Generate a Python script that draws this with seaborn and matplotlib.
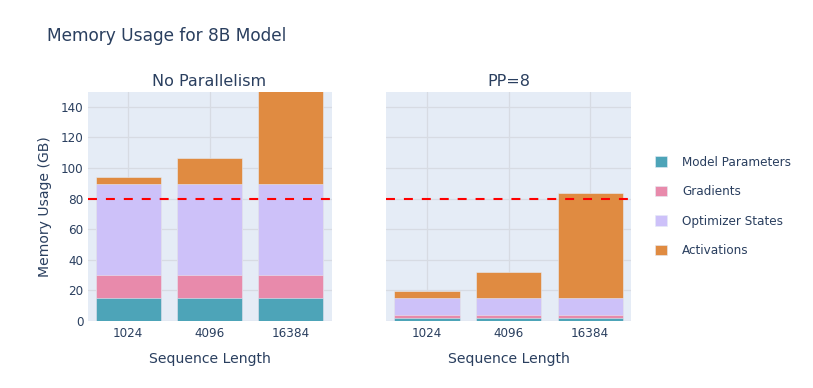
import matplotlib
matplotlib.use("Agg")
import matplotlib.pyplot as plt
import seaborn as sns
import pandas as pd
import numpy as np
from matplotlib.patches import Patch

# ---------------- data ----------------
seq_lengths = ["1024", "4096", "16384"]
components = ["Model Parameters", "Gradients", "Optimizer States", "Activations"]
panels = ["No Parallelism", "PP=8"]

params_nopp = [14.9, 14.9, 14.9]
grads_nopp = [14.9, 14.9, 14.9]
optim_nopp = [59.6, 59.6, 59.6]
act_nopp = [4.4, 17.2, 68.5]

params_pp8 = [1.86, 1.86, 1.86]
grads_pp8 = [1.86, 1.86, 1.86]
optim_pp8 = [11.18, 11.18, 11.18]
act_pp8 = [4.4, 17.2, 68.5]

gpu_limit = 80
y_max = 150
y_ticks = [0, 20, 40, 60, 80, 100, 120, 140]

colors = {
    "Model Parameters": "#4DA4B8",
    "Gradients": "#E88AAB",
    "Optimizer States": "#CDC1F9",
    "Activations": "#E08B41",
}

rows = []
for panel, series in zip(panels, [
        [params_nopp, grads_nopp, optim_nopp, act_nopp],
        [params_pp8, grads_pp8, optim_pp8, act_pp8]]):
    for comp, vals in zip(components, series):
        for s, v in zip(seq_lengths, vals):
            rows.append({"panel": panel, "seq": s, "component": comp, "value": v})
df = pd.DataFrame(rows)

# ---------------- style ----------------
sns.set_theme(style="darkgrid")
text_col = "#2a3f5f"
bg = "#E5ECF6"
grid_col = "#D7DBE3"
plt.rcParams["font.family"] = ["DejaVu Sans"]

W, H = 813, 388
fig = plt.figure(figsize=(W / 100, H / 100), dpi=100)
fig.patch.set_facecolor("white")

def fx(px):
    return px / W

def fy(py):
    return 1 - py / H

ax_l = fig.add_axes([fx(87.5), fy(321), fx(331.5 - 87.5), (321 - 91.5) / H])
ax_r = fig.add_axes([fx(386), fy(321), fx(631 - 386), (321 - 91.5) / H], sharey=ax_l)

for ax, panel in zip([ax_l, ax_r], panels):
    ax.set_facecolor(bg)
    sub = df[df.panel == panel].copy()
    piv = sub.pivot(index="seq", columns="component", values="value").loc[seq_lengths, components]
    cum = piv.cumsum(axis=1)
    # draw from the top segment down so each lower one covers the one above
    for comp in reversed(components):
        d = pd.DataFrame({"seq": seq_lengths, "top": cum[comp].values})
        sns.barplot(data=d, x="seq", y="top", order=seq_lengths, color=colors[comp],
                    saturation=1, width=0.8, ax=ax, edgecolor=bg, linewidth=0.4,
                    errorbar=None, zorder=2)
    ax.axhline(gpu_limit, color="red", linewidth=1.5, linestyle=(0, (4.3, 4.3)), zorder=5)
    ax.set_xlim(-0.5, 2.5)
    ax.set_ylim(0, y_max)
    ax.set_yticks(y_ticks)
    ax.grid(True, color=grid_col, linewidth=0.9, zorder=0)
    ax.set_axisbelow(True)
    for sp in ax.spines.values():
        sp.set_visible(False)
    ax.tick_params(axis="both", length=0, colors=text_col, labelsize=8.64, pad=3)
    ax.tick_params(axis="x", pad=4)
    ax.set_xlabel("Sequence Length", fontsize=10.1, color=text_col, labelpad=9)
    ax.set_ylabel("")
    ax.set_title(panel, fontsize=11.5, color=text_col, pad=4)

ax_l.set_ylabel("Memory Usage (GB)", fontsize=10.1, color=text_col, labelpad=6)
plt.setp(ax_r.get_yticklabels(), visible=False)

fig.text(fx(47), fy(36), "Memory Usage for 8B Model", fontsize=12.24, color=text_col,
         ha="left", va="center")

handles = [Patch(facecolor=colors[c], edgecolor=bg, linewidth=0.4) for c in components]
leg = fig.legend(handles, components, loc="upper left", bbox_to_anchor=(fx(655), fy(155.5)),
                 frameon=False, fontsize=8.64, handlelength=1.0, handleheight=1.0,
                 handletextpad=1.25, labelspacing=1.38, borderpad=0, borderaxespad=0)
for t in leg.get_texts():
    t.set_color(text_col)

fig.savefig("out.png", dpi=100, facecolor="white")
